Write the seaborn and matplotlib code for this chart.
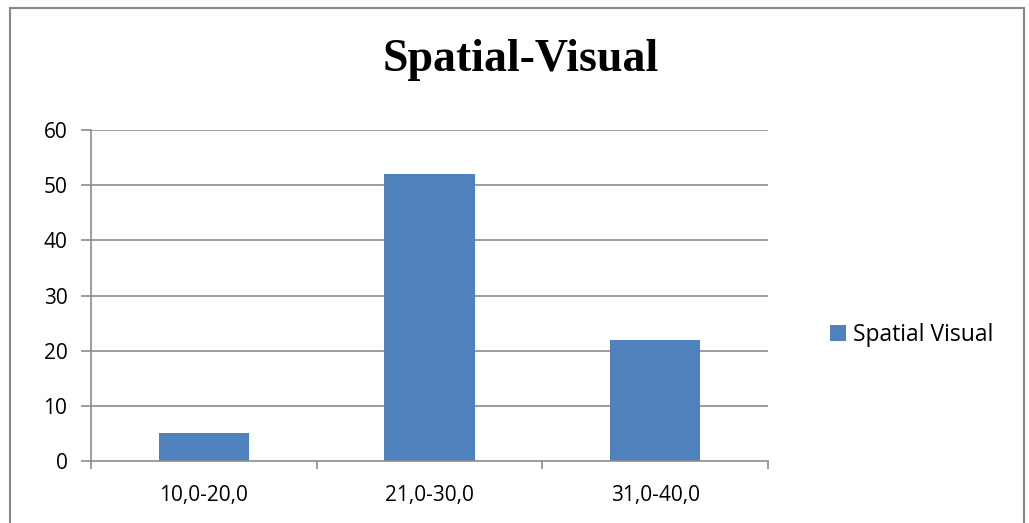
import matplotlib
matplotlib.use("Agg")
import matplotlib.pyplot as plt
import seaborn as sns
import pandas as pd
from matplotlib.patches import Rectangle

categories = ["10,0-20,0", "21,0-30,0", "31,0-40,0"]
values = [5, 52, 22]
series_name = "Spatial Visual"
title = "Spatial-Visual"
y_ticks = [0, 10, 20, 30, 40, 50, 60]

sns.set_theme(style="white")
plt.rcParams["font.family"] = ["Open Sans", "DejaVu Sans"]
plt.rcParams["text.color"] = "black"

df = pd.DataFrame({"range": categories, "count": values, "series": series_name})

W, H = 1029, 523
fig = plt.figure(figsize=(W / 100, H / 100), dpi=100)
ax = fig.add_axes([91 / W, 1 - 461 / H, (768 - 91) / W, (461 - 130) / H])

bar_color = "#4f81bd"
sns.barplot(data=df, x="range", y="count", hue="series", palette=[bar_color],
            width=0.4, ax=ax, saturation=1, edgecolor="none")

ax.set_ylim(0, 60)
ax.set_xlim(-0.5, len(categories) - 0.5)
ax.set_yticks(y_ticks)
ax.set_yticklabels([str(v) for v in y_ticks])
ax.set_xlabel("")
ax.set_ylabel("")

grid_c = "#8c8c8c"
for v in y_ticks[1:]:
    ax.axhline(v, color=grid_c, lw=1.2, zorder=0)
ax.set_axisbelow(True)

for side in ["top", "right"]:
    ax.spines[side].set_visible(False)
for side in ["left", "bottom"]:
    ax.spines[side].set_color(grid_c)
    ax.spines[side].set_linewidth(1.2)

# category boundary ticks on the x axis
ax.set_xticks([i - 0.5 for i in range(len(categories) + 1)], minor=True)
ax.tick_params(axis="x", which="minor", length=6, width=1.2, color=grid_c, direction="out", bottom=True)
ax.tick_params(axis="x", which="major", length=0, labelsize=15, pad=17, labelcolor="black")
ax.tick_params(axis="y", which="major", length=7, width=1.2, color=grid_c, direction="out",
               left=True, labelsize=15, pad=10, labelcolor="black")

leg = ax.legend(loc="center left", bbox_to_anchor=(809 / W, 1 - 335 / H),
                bbox_transform=fig.transFigure, frameon=False, fontsize=16.5,
                handlelength=0.7, handleheight=0.7, handletextpad=0.3)
for t in leg.get_texts():
    t.set_color("black")

fig.text(0.5 * (91 + 950) / W, 1 - 60 / H, title, ha="center", va="center",
         fontsize=33, fontweight="bold", family="Liberation Serif", color="black")

# outer chart frame
fig.patches.append(Rectangle((10 / W, -0.05), (1024 - 10) / W, (1 - 8 / H) + 0.05,
                             transform=fig.transFigure, fill=False,
                             edgecolor="#888888", lw=1.5))

fig.savefig("out.png", dpi=100, facecolor="white")
